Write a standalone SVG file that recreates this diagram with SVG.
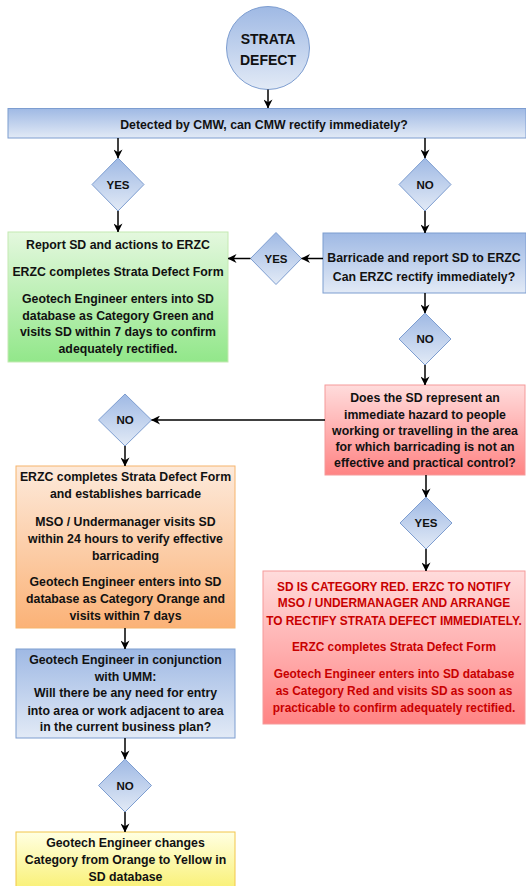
<svg xmlns="http://www.w3.org/2000/svg" width="526" height="886" viewBox="0 0 526 886">
<defs>
<linearGradient id="gBlue" x1="0" y1="0" x2="0" y2="1"><stop offset="0" stop-color="#9fb9e4"/><stop offset="1" stop-color="#e2eaf6"/></linearGradient>
<linearGradient id="gGreen" x1="0" y1="0" x2="0" y2="1"><stop offset="0" stop-color="#e4f8de"/><stop offset="1" stop-color="#92e78a"/></linearGradient>
<linearGradient id="gOrange" x1="0" y1="0" x2="0" y2="1"><stop offset="0" stop-color="#fdeadb"/><stop offset="1" stop-color="#fbb277"/></linearGradient>
<linearGradient id="gRed" x1="0" y1="0" x2="0" y2="1"><stop offset="0" stop-color="#ffdcdc"/><stop offset="1" stop-color="#ff8484"/></linearGradient>
<linearGradient id="gYellow" x1="0" y1="0" x2="0" y2="1"><stop offset="0" stop-color="#ffffe2"/><stop offset="1" stop-color="#f9f070"/></linearGradient>
<marker id="arr" viewBox="0 0 10 10" refX="9.5" refY="5" markerWidth="9" markerHeight="9" markerUnits="userSpaceOnUse" orient="auto">
<path d="M0,0 L10,5 L0,10 L3,5 z" fill="#000"/>
</marker>
</defs>
<style>
text{font-family:"Liberation Sans",Arial,sans-serif;font-weight:bold;font-size:12.3px;fill:#111;text-anchor:middle}
.lbl{font-size:11.5px}
.big{font-size:14px}
.red{fill:#c80000;font-size:11.9px}
.blue{fill:url(#gBlue);stroke:#7d9dd0;stroke-width:1}
.green{fill:url(#gGreen);stroke:#c4e9b2;stroke-width:1}
.orange{fill:url(#gOrange);stroke:#f6b46c;stroke-width:1}
.redbox{fill:url(#gRed);stroke:#f59a9a;stroke-width:1}
.yellow{fill:url(#gYellow);stroke:#f2c64a;stroke-width:1}
.conn line{stroke:#000;stroke-width:1.5;marker-end:url(#arr)}
</style>
<g id="start">
<circle class="blue" cx="268" cy="48" r="41.5"/>
<text class="big" x="268" y="44">STRATA</text>
<text class="big" x="268" y="65">DEFECT</text>
</g>
<g id="q1">
<rect class="blue" x="8" y="108.5" width="518" height="29.5"/>
<text x="264" y="129">Detected by CMW, can CMW rectify immediately?</text>
</g>
<g id="d_yes1">
<polygon class="blue" points="118,158 144,184.5 118,211 92,184.5"/>
<text class="lbl" x="118" y="189">YES</text>
</g>
<g id="d_no1">
<polygon class="blue" points="425,158 451,184.5 425,211 399,184.5"/>
<text class="lbl" x="425" y="189">NO</text>
</g>
<g id="green">
<rect class="green" x="8" y="232" width="220" height="130"/>
<text x="118" y="249">Report SD and actions to ERZC</text>
<text x="118" y="276">ERZC completes Strata Defect Form</text>
<text x="118" y="303">Geotech Engineer enters into SD</text>
<text x="118" y="320">database as Category Green and</text>
<text x="118" y="336">visits SD within 7 days to confirm</text>
<text x="118" y="353">adequately rectified.</text>
</g>
<g id="d_yes2">
<polygon class="blue" points="276,232.5 301.5,258.5 276,284.5 250.5,258.5"/>
<text class="lbl" x="276" y="262.5">YES</text>
</g>
<g id="barricade">
<rect class="blue" x="323" y="233" width="203" height="60"/>
<text x="424" y="262">Barricade and report SD to ERZC</text>
<text x="424" y="281">Can ERZC rectify immediately?</text>
</g>
<g id="d_no2">
<polygon class="blue" points="425,313 451,339 425,365 399,339"/>
<text class="lbl" x="425" y="343">NO</text>
</g>
<g id="hazard">
<rect class="redbox" x="325" y="385" width="200" height="90"/>
<text x="425" y="402">Does the SD represent an</text>
<text x="425" y="419">immediate hazard to people</text>
<text x="425" y="435">working or travelling in the area</text>
<text x="425" y="451">for which barricading is not an</text>
<text x="425" y="467">effective and practical control?</text>
</g>
<g id="d_no3">
<polygon class="blue" points="125,394 151.5,420 125,446 98.5,420"/>
<text class="lbl" x="125" y="424">NO</text>
</g>
<g id="orange">
<rect class="orange" x="16" y="466" width="219" height="162"/>
<text x="125.5" y="481">ERZC completes Strata Defect Form</text>
<text x="125.5" y="498">and establishes barricade</text>
<text x="125.5" y="526">MSO / Undermanager visits SD</text>
<text x="125.5" y="543">within 24 hours to verify effective</text>
<text x="125.5" y="560">barricading</text>
<text x="125.5" y="586">Geotech Engineer enters into SD</text>
<text x="125.5" y="603">database as Category Orange and</text>
<text x="125.5" y="620">visits within 7 days</text>
</g>
<g id="d_yes3">
<polygon class="blue" points="426,497 452,523 426,549 400,523"/>
<text class="lbl" x="426" y="527">YES</text>
</g>
<g id="redcat">
<rect class="redbox" x="263" y="571" width="262" height="153"/>
<text class="red" x="394" y="591">SD IS CATEGORY RED. ERZC TO NOTIFY</text>
<text class="red" x="394" y="607">MSO / UNDERMANAGER AND ARRANGE</text>
<text class="red" x="394" y="625">TO RECTIFY STRATA DEFECT IMMEDIATELY.</text>
<text class="red" x="394" y="651">ERZC completes Strata Defect Form</text>
<text class="red" x="394" y="678">Geotech Engineer enters into SD database</text>
<text class="red" x="394" y="695">as Category Red and visits SD as soon as</text>
<text class="red" x="394" y="712">practicable to confirm adequately rectified.</text>
</g>
<g id="umm">
<rect class="blue" x="16" y="649" width="219" height="89"/>
<text x="125.5" y="664">Geotech Engineer in conjunction</text>
<text x="125.5" y="681">with UMM:</text>
<text x="125.5" y="697">Will there be any need for entry</text>
<text x="125.5" y="715">into area or work adjacent to area</text>
<text x="125.5" y="731">in the current business plan?</text>
</g>
<g id="d_no4">
<polygon class="blue" points="125,759 151.5,785.5 125,812 98.5,785.5"/>
<text class="lbl" x="125" y="790">NO</text>
</g>
<g id="yellow">
<rect class="yellow" x="16" y="832" width="219" height="60"/>
<text x="125.5" y="847">Geotech Engineer changes</text>
<text x="125.5" y="864">Category from Orange to Yellow in</text>
<text x="125.5" y="881">SD database</text>
</g>
<g id="connectors" class="conn">
<line x1="268" y1="89.5" x2="268" y2="108"/>
<line x1="118" y1="138" x2="118" y2="158"/>
<line x1="425" y1="138" x2="425" y2="158"/>
<line x1="118" y1="211" x2="118" y2="232"/>
<line x1="425" y1="211" x2="425" y2="233"/>
<line x1="323" y1="258.5" x2="301.5" y2="258.5"/>
<line x1="250.5" y1="258.5" x2="228" y2="258.5"/>
<line x1="425" y1="293" x2="425" y2="313"/>
<line x1="425" y1="365" x2="425" y2="385"/>
<line x1="325" y1="420" x2="151.5" y2="420"/>
<line x1="125" y1="446" x2="125" y2="466"/>
<line x1="426" y1="475" x2="426" y2="497"/>
<line x1="426" y1="549" x2="426" y2="571"/>
<line x1="125" y1="628" x2="125" y2="649"/>
<line x1="125" y1="738" x2="125" y2="759"/>
<line x1="125" y1="812" x2="125" y2="832"/>
</g>
</svg>
